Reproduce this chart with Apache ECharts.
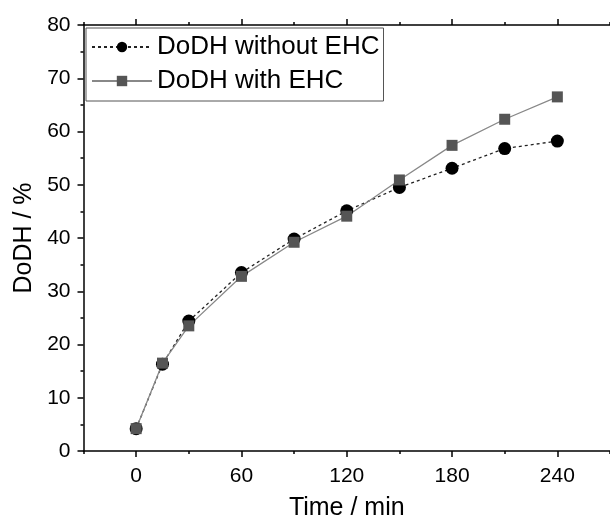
<!DOCTYPE html>
<html>
<head>
<meta charset="utf-8">
<script src="https://cdn.jsdelivr.net/npm/echarts@6/dist/echarts.min.js"></script>
<style>
  html, body { margin: 0; padding: 0; background: #fff; }
  #chart { width: 610px; height: 526px; }
</style>
</head>
<body>
<div id="chart"></div>
<script>
const times = [0, 15, 30, 60, 90, 120, 150, 180, 210, 240];
const withoutEHC = [4.2, 16.3, 24.4, 33.5, 39.8, 45.1, 49.5, 53.1, 56.8, 58.2];
const withEHC = [4.2, 16.5, 23.5, 32.8, 39.2, 44.1, 50.9, 57.4, 62.3, 66.5];
const majorX = [0, 60, 120, 180, 240];
const minorX = [-30, 30, 90, 150, 210, 270];

const font = 'Liberation Sans, Arial, sans-serif';
const axisColor = '#000';

const chart = echarts.init(document.getElementById('chart'));

// one x axis for the long ticks + labels, one more for the short ticks (bottom and top)
const xBase = { type: 'value', min: -30, max: 270, splitLine: { show: false } };

chart.setOption({
  animation: false,
  backgroundColor: '#fff',
  textStyle: { fontFamily: font },
  grid: { left: 83.5, top: 25, right: -3.5, bottom: 74 },
  legend: {
    data: ['DoDH without EHC', 'DoDH with EHC'],
    orient: 'vertical',
    left: 86,
    top: 28,
    padding: [6, 4, 7, 5],
    itemWidth: 60,
    itemHeight: 13,
    itemGap: 8,
    borderColor: '#555',
    borderWidth: 1,
    textStyle: { fontSize: 26, color: '#000', fontFamily: font }
  },
  xAxis: [
    {
      ...xBase,
      position: 'bottom',
      name: 'Time / min',
      nameLocation: 'middle',
      nameGap: 45,
      nameTextStyle: { fontSize: 25, color: '#000', fontFamily: font },
      axisLine: { onZero: false, lineStyle: { color: axisColor, width: 1.5 } },
      axisTick: { customValues: majorX, length: 6, lineStyle: { color: axisColor, width: 1.5 } },
      axisLabel: { customValues: majorX, fontSize: 21, color: '#000', margin: 15, fontFamily: font }
    },
    {
      ...xBase,
      position: 'bottom',
      axisLine: { show: false },
      axisTick: { customValues: minorX, length: 3, lineStyle: { color: axisColor, width: 1.5 } },
      axisLabel: { show: false }
    },
    {
      ...xBase,
      position: 'top',
      axisLine: { onZero: false, lineStyle: { color: axisColor, width: 1.5 } },
      axisTick: { customValues: majorX, length: 6, lineStyle: { color: axisColor, width: 1.5 } },
      axisLabel: { show: false }
    },
    {
      ...xBase,
      position: 'top',
      axisLine: { show: false },
      axisTick: { customValues: minorX, length: 3, lineStyle: { color: axisColor, width: 1.5 } },
      axisLabel: { show: false }
    }
  ],
  yAxis: {
    type: 'value',
    min: 0,
    max: 80,
    interval: 10,
    name: 'DoDH / %',
    nameLocation: 'middle',
    nameRotate: 90,
    nameGap: 45,
    nameTextStyle: { fontSize: 25, color: '#000', fontFamily: font },
    splitLine: { show: false },
    axisLine: { show: true, onZero: false, lineStyle: { color: axisColor, width: 1.5 } },
    axisTick: { show: true, length: 6, lineStyle: { color: axisColor, width: 1.5 } },
    minorTick: { show: true, splitNumber: 2, length: 3, lineStyle: { color: axisColor, width: 1.5 } },
    axisLabel: { fontSize: 21, color: '#000', margin: 13, fontFamily: font }
  },
  series: [
    {
      name: 'DoDH without EHC',
      type: 'line',
      xAxisIndex: 0,
      data: times.map((t, i) => [t, withoutEHC[i]]),
      symbol: 'circle',
      symbolSize: 13,
      itemStyle: { color: '#000' },
      lineStyle: { color: '#222', width: 1.3, type: [3, 3] }
    },
    {
      name: 'DoDH with EHC',
      type: 'line',
      xAxisIndex: 0,
      data: times.map((t, i) => [t, withEHC[i]]),
      symbol: 'rect',
      symbolSize: 11,
      itemStyle: { color: '#555' },
      lineStyle: { color: '#888', width: 1.3 }
    }
  ]
});
</script>
</body>
</html>
